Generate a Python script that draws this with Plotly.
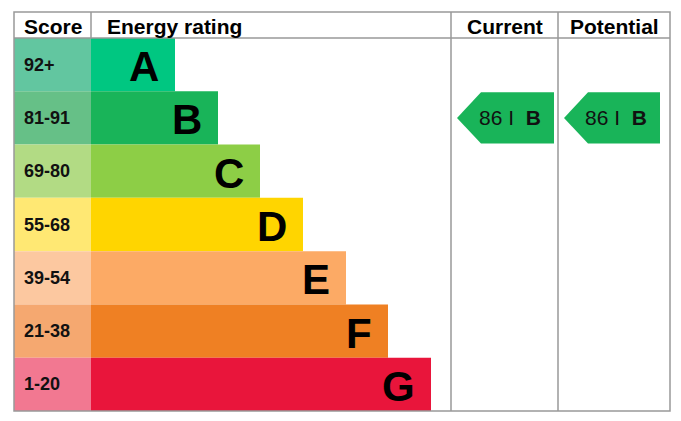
import plotly.graph_objects as go

ratings = ["A", "B", "C", "D", "E", "F", "G"]
scores = ["92+", "81-91", "69-80", "55-68", "39-54", "21-38", "1-20"]
bar_colors = ["#00c781", "#19b459", "#8dce46", "#ffd500", "#fcaa65", "#ef8023", "#e9153b"]
score_colors = ["#62c6a0", "#66c087", "#b2db84", "#ffe873", "#fcc8a0", "#f5a870", "#f27891"]
current_score, current_rating = 86, "B"
potential_score, potential_rating = 86, "B"

W, H = 681, 421
OFF = 8  # page body margin
top, hdr, bottom = 12, 38, 411
left, c1, c2, c3, right = 14, 91, 451, 558, 670
rh = (bottom - hdr) / 7
ends = [175, 218, 260, 303, 346, 388, 431]
ys = [hdr + rh * (i + 0.5) for i in range(7)]

fig = go.Figure()
fig.add_trace(go.Bar(orientation="h", y=ys, x=[c1 - left] * 7, base=left, width=rh,
                     marker=dict(color=score_colors, line=dict(width=0)), hoverinfo="skip"))
fig.add_trace(go.Bar(orientation="h", y=ys, x=[e - c1 for e in ends], base=c1, width=rh,
                     marker=dict(color=bar_colors, line=dict(width=0)), hoverinfo="skip"))

ann = []
for i in range(7):
    ann.append(dict(x=left + 8, y=ys[i], text=scores[i], xanchor="left", showarrow=False,
                    font=dict(size=18, color="#111", family="Liberation Sans", weight="bold")))
    ann.append(dict(x=ends[i] - 14, y=ys[i] + 2, text=ratings[i], xanchor="right", showarrow=False,
                    font=dict(size=42, color="#000", family="Liberation Sans", weight="bold")))
for x, t in [((left + c1) / 2, "Score"), (c1 + 14, "Energy rating"), ((c2 + c3) / 2, "Current"), ((c3 + right) / 2, "Potential")]:
    ann.append(dict(x=x, y=(top + hdr) / 2 + 1, text=t, xanchor="left" if t == "Energy rating" else "center",
                    showarrow=False, font=dict(size=21, color="#000", family="Liberation Sans", weight="bold")))

shapes = []
line = dict(color="#999", width=1.5)
shapes.append(dict(type="rect", x0=left, x1=right, y0=top, y1=bottom, line=line, layer="above"))
shapes.append(dict(type="line", x0=left, x1=right, y0=hdr, y1=hdr, line=line))
for x in (c1, c2, c3):
    shapes.append(dict(type="line", x0=x, x1=x, y0=top, y1=bottom if x != c1 else hdr, line=line))

def arrow(x0, x1, score, rating):
    i = ratings.index(rating)
    yc = ys[i]
    y0, y1 = yc - rh / 2 + 1, yc + rh / 2 - 1
    path = f"M {x0},{yc} L {x0+24},{y0} L {x1},{y0} L {x1},{y1} L {x0+24},{y1} Z"
    shapes.append(dict(type="path", path=path, fillcolor=bar_colors[i], line=dict(width=0)))
    ann.append(dict(x=(x0 + x1) / 2 + 4, y=yc, showarrow=False,
                    text=f"{score} I  <b>{rating}</b>",
                    font=dict(size=21, color="#111", family="Liberation Sans")))

arrow(457, 554, current_score, current_rating)
arrow(564, 660, potential_score, potential_rating)

fig.update_layout(width=W, height=H, margin=dict(l=0, r=0, t=0, b=0), showlegend=False,
                  plot_bgcolor="white", paper_bgcolor="white", barmode="overlay",
                  xaxis=dict(range=[OFF, W + OFF], visible=False, fixedrange=True),
                  yaxis=dict(range=[H + OFF, OFF], visible=False, fixedrange=True),
                  annotations=ann, shapes=shapes)
fig.write_html("out.html")
